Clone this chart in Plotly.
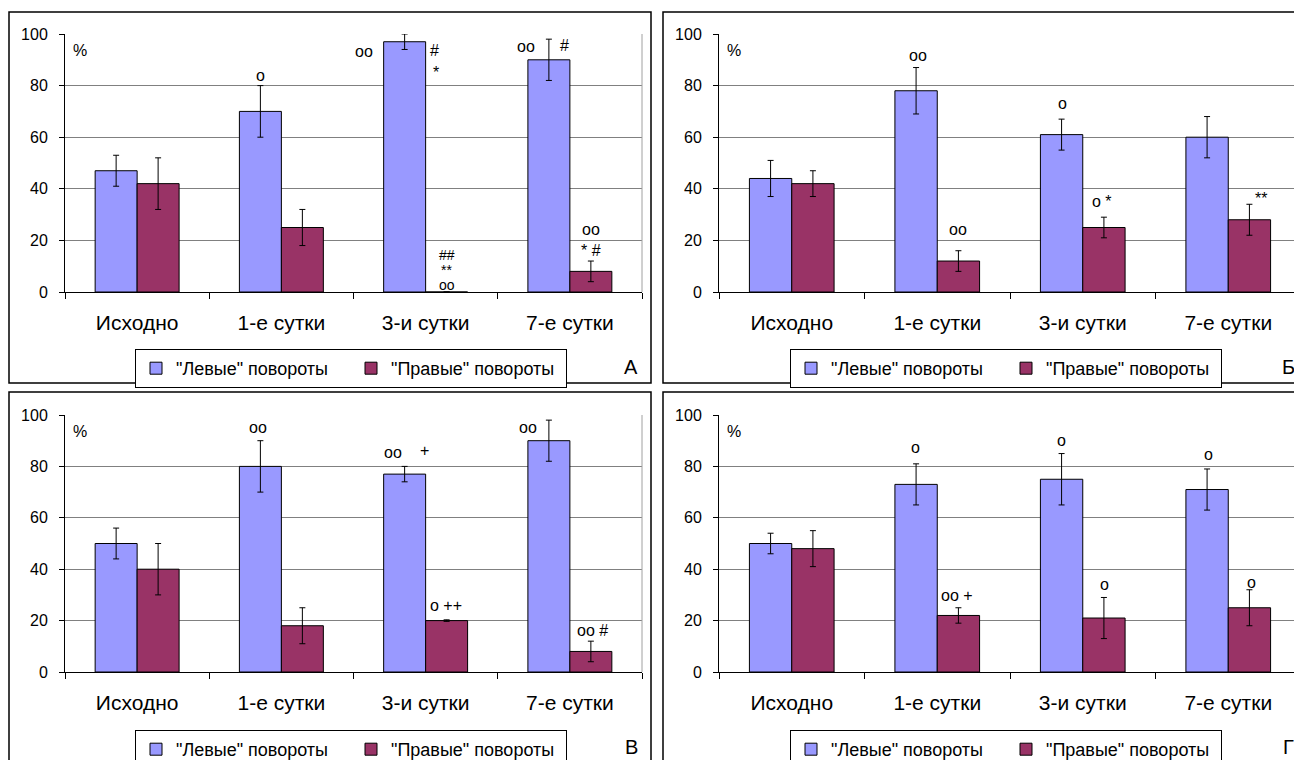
import plotly.graph_objects as go

# ---------------- data ----------------
categories = ["Исходно", "1-е сутки", "3-и сутки", "7-е сутки"]
series_names = ['"Левые" повороты', '"Правые" повороты']

a_left = [47, 70, 97, 90]
a_left_err = [6, 10, 3, 8]
a_right = [42, 25, 0, 8]
a_right_err = [10, 7, 0, 4]

b_left = [44, 78, 61, 60]
b_left_err = [7, 9, 6, 8]
b_right = [42, 12, 25, 28]
b_right_err = [5, 4, 4, 6]

c_left = [50, 80, 77, 90]
c_left_err = [6, 10, 3, 8]
c_right = [40, 18, 20, 8]
c_right_err = [10, 7, 0.3, 4]

d_left = [50, 73, 75, 71]
d_left_err = [4, 8, 10, 8]
d_right = [48, 22, 21, 25]
d_right_err = [7, 3, 8, 7]

panel_letters = ["А", "Б", "В", "Г"]

# significance marks: (category index, y value, text, x offset px, font size)
a_marks = [(1, 84, "o", -21, 16), (2, 93.4, "oo", -62, 16), (2, 93.5, "#", 9, 16), (2, 85, "*", 10, 16),
           (3, 95, "oo", -44, 16), (3, 95.5, "#", -5, 16),
           (2, 14.3, "##", 21, 14), (2, 8.5, "**", 21, 14), (2, 2.8, "oo", 21, 14),
           (3, 24.4, "oo", 21, 16), (3, 15.9, "* #", 21, 16)]
b_marks = [(1, 91.5, "oo", -19, 16), (1, 24.4, "oo", 21, 16), (2, 72.9, "o", -20, 16),
           (2, 35, "o *", 19, 16), (3, 36.4, "**", 33, 16)]
c_marks = [(1, 95, "oo", -23, 16), (2, 85.6, "oo", -33, 16), (2, 86.2, "+", -1, 16),
           (3, 95.3, "oo", -42, 16), (2, 25.7, "o ++", 20, 16), (3, 16, "oo #", 23, 16)]
d_marks = [(1, 87.5, "o", -22, 16), (2, 89.9, "o", -21, 16), (3, 84.8, "o", -20, 16),
           (1, 29.6, "oo +", 20, 16), (2, 33.9, "o", 22, 16), (3, 35, "o", 23, 16)]

# ---------------- styling ----------------
W, H = 1294, 760
FONT = "Arial, Liberation Sans, sans-serif"
LEFT_COLOR = "#9999FF"
RIGHT_COLOR = "#993366"
GRID = "#808080"

panels = [
    dict(left=a_left, lerr=a_left_err, right=a_right, rerr=a_right_err, marks=a_marks,
         px=(65, 642), py=(34, 292), frame=(9, 12, 651, 383), leg=(135, 349), letter=(631, 367)),
    dict(left=b_left, lerr=b_left_err, right=b_right, rerr=b_right_err, marks=b_marks,
         px=(719, 1301), py=(34, 292), frame=(663, 12, 1310, 383), leg=(790, 349), letter=(1288, 367)),
    dict(left=c_left, lerr=c_left_err, right=c_right, rerr=c_right_err, marks=c_marks,
         px=(65, 642), py=(415, 672), frame=(9, 392, 651, 775), leg=(135, 730), letter=(631, 747)),
    dict(left=d_left, lerr=d_left_err, right=d_right, rerr=d_right_err, marks=d_marks,
         px=(719, 1301), py=(415, 672), frame=(663, 392, 1310, 775), leg=(790, 730), letter=(1288, 747)),
]

fig = go.Figure()
layout = dict(
    width=W, height=H, margin=dict(l=0, r=0, t=0, b=0, autoexpand=False),
    paper_bgcolor="white", plot_bgcolor="white",
    barmode="group", bargap=0.418, bargroupgap=0,
    font=dict(family=FONT, color="black"),
    showlegend=True,
)
shapes = []
annotations = []

for i, p in enumerate(panels):
    n = "" if i == 0 else str(i + 1)
    xa, ya = "x" + n, "y" + n
    leg_name = "legend" + n
    for name, vals, errs, col in [(series_names[0], p["left"], p["lerr"], LEFT_COLOR),
                                  (series_names[1], p["right"], p["rerr"], RIGHT_COLOR)]:
        fig.add_trace(go.Bar(
            x=categories, y=vals, name=name, xaxis=xa, yaxis=ya, legend=leg_name,
            marker=dict(color=col, line=dict(color="black", width=1)),
            error_y=dict(type="data", array=errs, visible=True, color="black", thickness=1, width=3),
        ))
    x0, x1 = p["px"]
    y0, y1 = p["py"]
    cat_w = (x1 - x0) / 4.0
    dom_x1 = min(x1, W)
    xrange_end = -0.5 + (dom_x1 - x0) / cat_w
    layout["xaxis" + n] = dict(
        domain=[x0 / W, dom_x1 / W], anchor=ya, type="category",
        range=[-0.5, xrange_end], showline=True, linecolor="black", linewidth=1,
        ticks="outside", tickson="boundaries", ticklen=6, tickcolor="black",
        tickfont=dict(size=21, family=FONT, color="black"), ticklabelstandoff=12,
        showgrid=False, fixedrange=True,
    )
    layout["yaxis" + n] = dict(
        domain=[1 - y1 / H, 1 - y0 / H], anchor=xa, range=[0, 100], dtick=20,
        showline=True, linecolor="black", linewidth=1,
        ticks="outside", ticklen=5, tickcolor="black",
        tickfont=dict(size=16, family=FONT, color="black"), ticklabelstandoff=8,
        showgrid=True, gridcolor=GRID, gridwidth=1, zeroline=False, fixedrange=True,
    )
    lx, ly = p["leg"]
    layout[leg_name] = dict(
        x=lx / W, y=1 - ly / H, xanchor="left", yanchor="top", orientation="h",
        bordercolor="black", borderwidth=1, bgcolor="white",
        font=dict(size=18, family=FONT, color="black"), itemwidth=30, tracegroupgap=0,
        entrywidth=170, entrywidthmode="pixels",
    )
    # outer frame
    fx0, fy0, fx1, fy1 = p["frame"]
    shapes.append(dict(type="rect", xref="paper", yref="paper",
                       x0=fx0 / W, x1=fx1 / W, y0=1 - fy1 / H, y1=1 - fy0 / H,
                       line=dict(color="black", width=1.5), layer="below"))
    # plot-area right border
    shapes.append(dict(type="line", xref=xa + " domain", yref=ya + " domain",
                       x0=(x1 - x0) / (dom_x1 - x0), x1=(x1 - x0) / (dom_x1 - x0), y0=0, y1=1,
                       line=dict(color="#A0A0A0", width=1)))
    # percent sign
    annotations.append(dict(text="%", xref=xa, yref=ya, x=-0.5 + 6 / cat_w, y=93.5,
                            showarrow=False, xanchor="left", yanchor="middle",
                            font=dict(size=16, family=FONT, color="black")))
    # significance marks
    for ci, yv, txt, dx, fs in p["marks"]:
        annotations.append(dict(text=txt, xref=xa, yref=ya, x=categories[ci], y=yv, xshift=dx,
                                showarrow=False, xanchor="center", yanchor="middle",
                                font=dict(size=fs, family=FONT, color="black")))
    # panel letter
    ltx, lty = p["letter"]
    annotations.append(dict(text=panel_letters[i], xref="paper", yref="paper",
                            x=ltx / W, y=1 - lty / H, showarrow=False,
                            xanchor="center", yanchor="middle",
                            font=dict(size=20, family=FONT, color="black")))

layout["shapes"] = shapes
layout["annotations"] = annotations
fig.update_layout(**layout)
fig.write_html("out.html", config={"displayModeBar": False},
               post_script="document.body.style.margin='0px';document.body.style.overflow='hidden';")
